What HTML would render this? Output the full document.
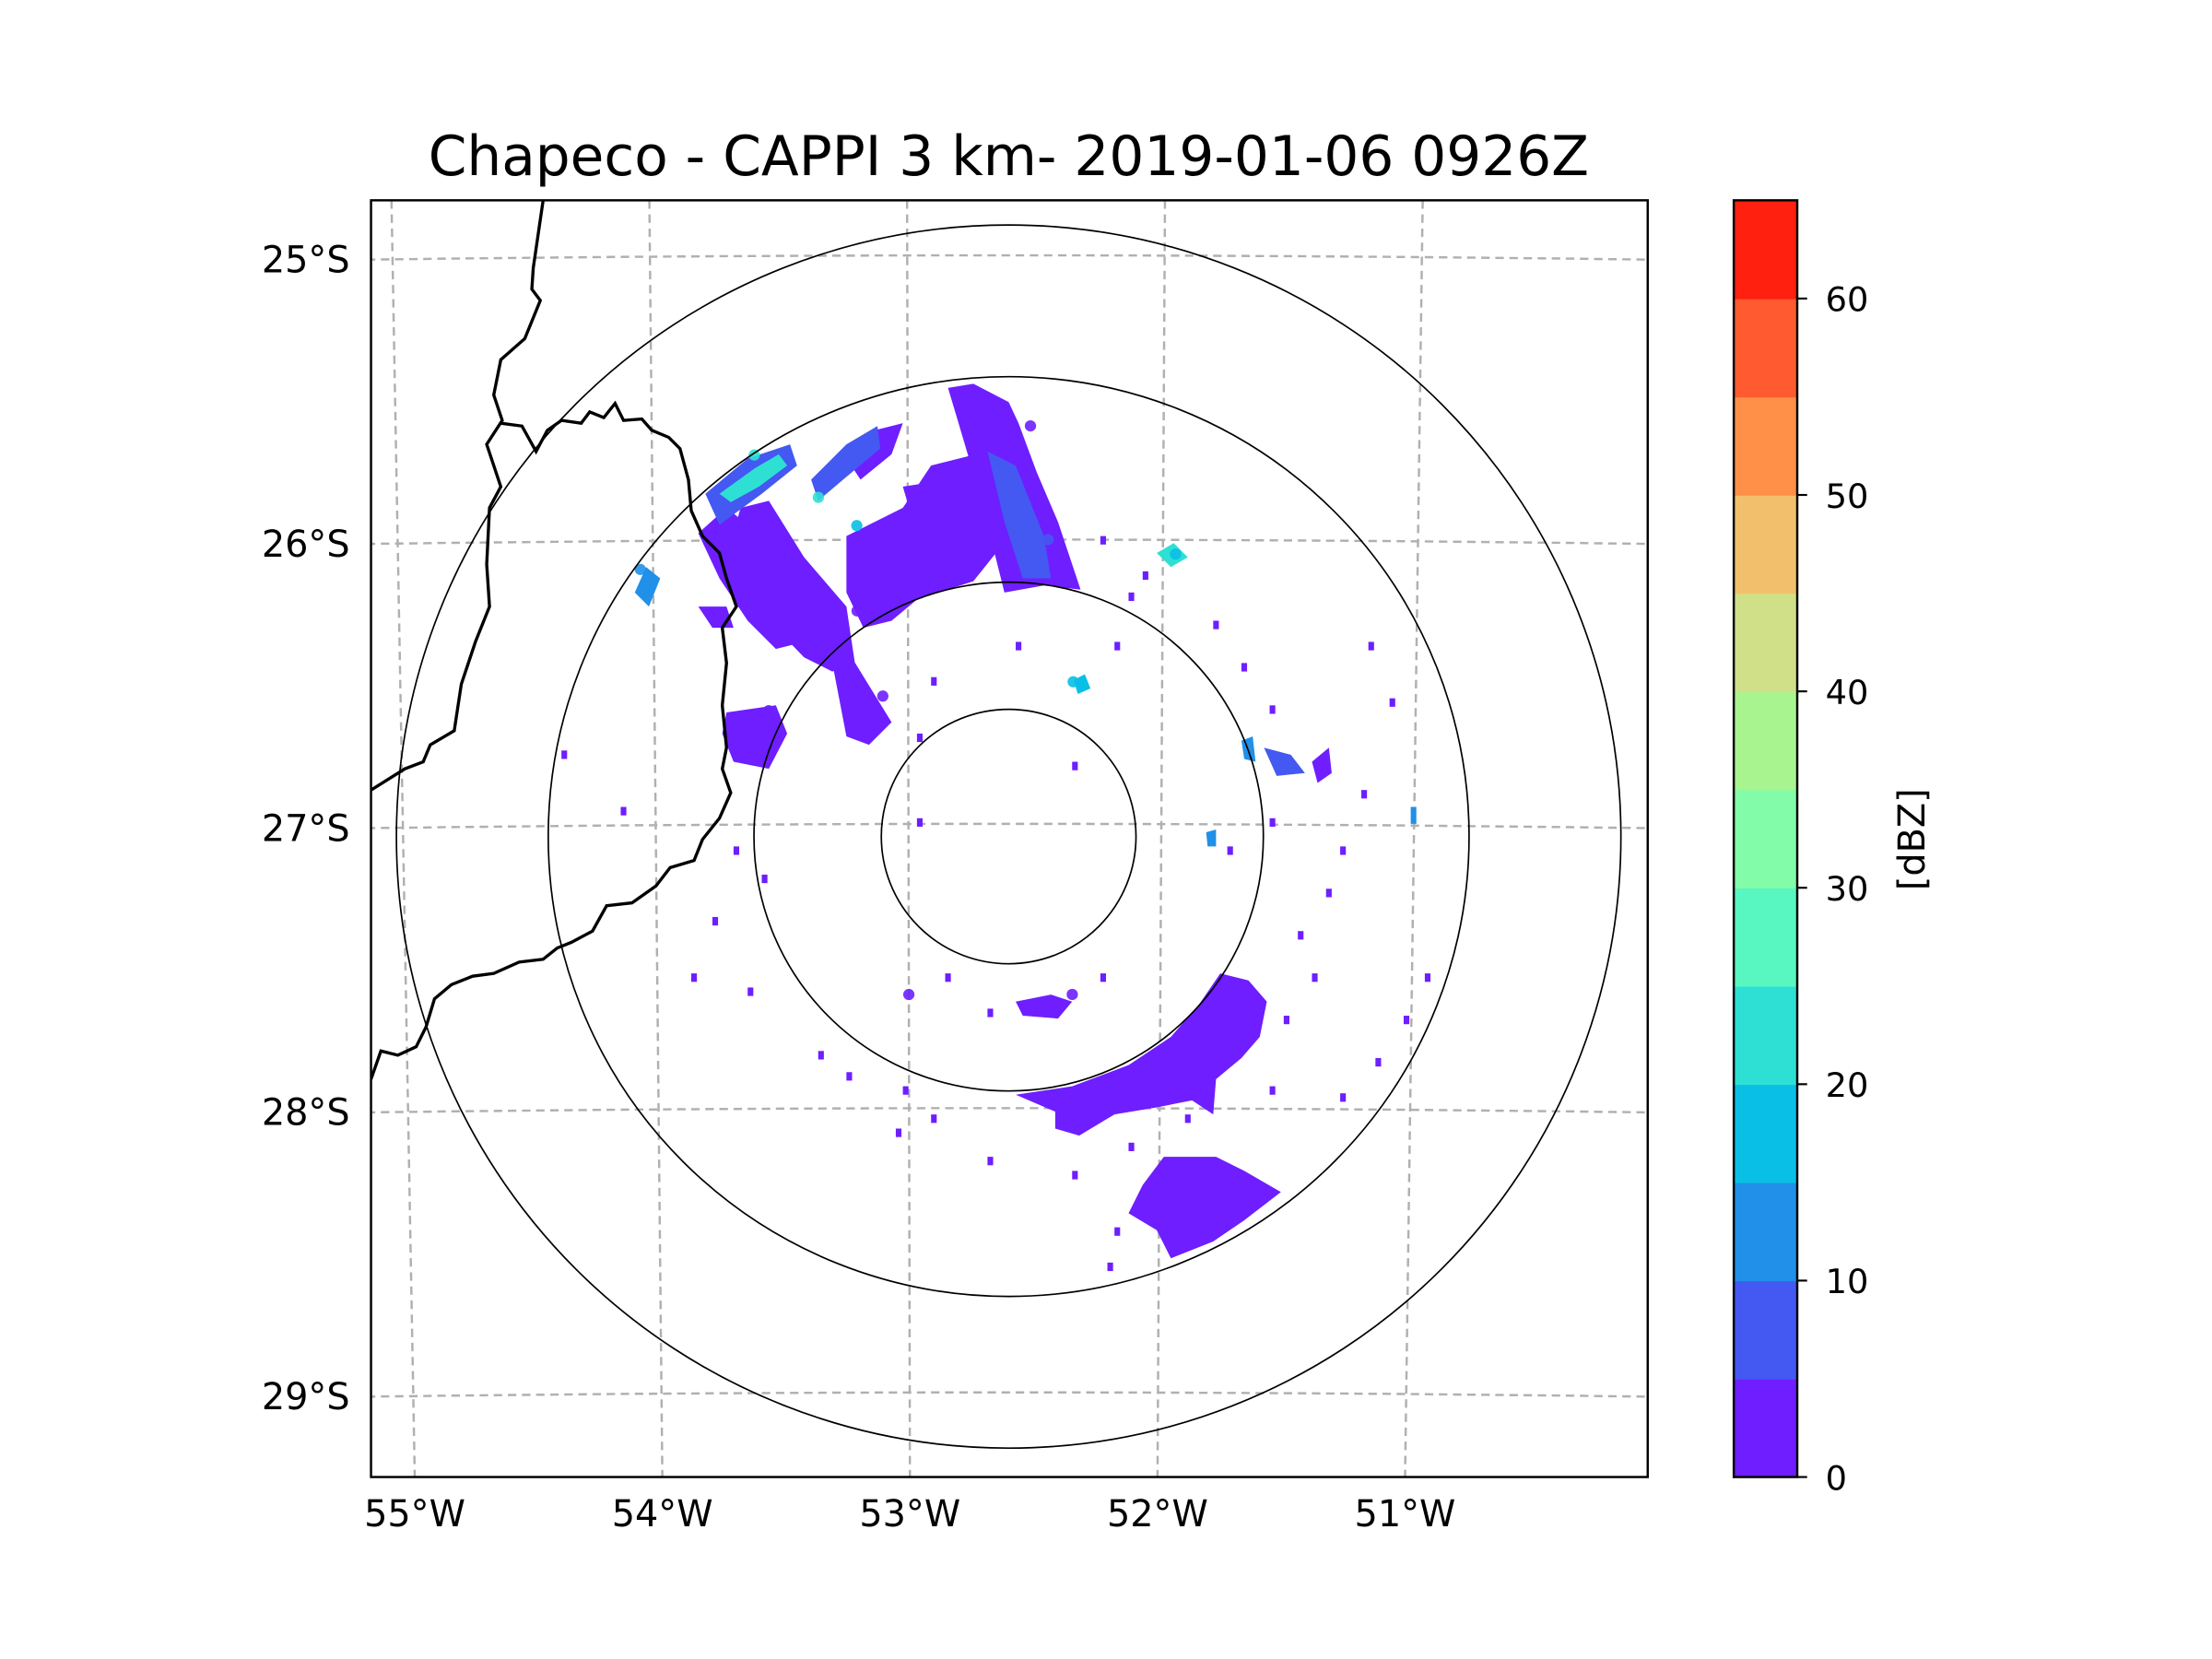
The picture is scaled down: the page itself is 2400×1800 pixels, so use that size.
<!DOCTYPE html>
<html><head><meta charset="utf-8"><style>
html,body{margin:0;padding:0;background:#fff;}
svg{display:block;}
text{font-family:"DejaVu Sans","Liberation Sans",sans-serif;fill:#000;}
</style></head><body>
<svg id="chart" width="2400" height="1800" viewBox="0 0 1568 1176" xmlns="http://www.w3.org/2000/svg">
<rect width="1568" height="1176" fill="#fff"/>
<text x="715" y="124" font-size="39" text-anchor="middle">Chapeco - CAPPI 3 km- 2019-01-06 0926Z</text>
<defs><clipPath id="mapclip"><rect x="263" y="142" width="905" height="905"/></clipPath></defs>
<g id="map" clip-path="url(#mapclip)">
 <g id="grid"></g>
 <g id="echoes"></g>
 <g id="rings"></g>
 <path fill="none" stroke="#000" stroke-width="2.2" d="M385,142 L378,190 L377,205 L383,213 L372,240 L355,255 L350,280 L356,298 L345,315 L355,345 L347,360 L345,400 L347,430 L337,455 L327,485 L322,518 L305,528 L300,540 L287,545 L263,560"/>
 <path fill="none" stroke="#000" stroke-width="2.2" d="M355,300 L370,302 L380,320 L388,305 L398,298 L412,300 L418,292 L428,296 L436,286 L442,298 L455,297 L462,305 L474,310 L482,318 L488,340 L490,362 L498,380 L510,392 L515,410 L522,430 L512,445 L515,470 L512,500 L515,530 L512,545 L518,562 L510,580 L498,595 L492,610 L475,615 L465,628 L448,640 L430,642 L420,660 L405,668 L395,672 L385,680 L368,682 L350,690 L335,692 L320,698 L308,708 L302,728 L295,742 L282,748 L270,745 L263,765"/>
</g>
<rect x="263" y="142" width="905" height="905" fill="none" stroke="#000" stroke-width="1.6"/>
<g id="yticks"></g>
<g id="xticks"></g>
<g id="cbar"></g>
<text x="0" y="0" font-size="26" text-anchor="middle" transform="translate(1364,595) rotate(-90)">[dBZ]</text>
</svg>
<script>
const NS="http://www.w3.org/2000/svg";
// ---- data ----
const latTicks=[25,26,27,28,29];
const lonTicks=[55,54,53,52,51];
const latLabels=["25°S","26°S","27°S","28°S","29°S"];
const lonLabels=["55°W","54°W","53°W","52°W","51°W"];
const ringKm=[52,104,188,250];
const cbarLevels=[0,5,10,15,20,25,30,35,40,45,50,55,60,65];
const cbarColors=["#6e1eff","#4458f2","#2090e8","#0abfe6","#2ee0d4","#58f6c0","#82fca8","#a8f48e","#d0e088","#f2c06c","#ff9048","#ff5a30","#ff2010"];
const cbarTickValues=[0,10,20,30,40,50,60];
// echo cells: lon, lat, dBZ
const echoLon=[-52.52,-52.45,-53.35,-53.2,-53.55,-53.1,-52.85,-53.6,-53.2,-52.0,-52.2,-51.85,-52.35,-54.05,-51.95,-52.35,-53.0];
const echoLat=[-25.6,-26.0,-25.85,-26.25,-26.6,-26.55,-26.1,-25.7,-25.95,-27.85,-27.95,-28.3,-26.5,-26.1,-26.05,-27.6,-27.6];
const echoVal=[2,6,22,4,3,3,3,24,17,2,2,2,16,13,17,3,2];
// ---- axes functions ----
function yOf(lat,x){const b=(x-715)/450;return 587+(-lat-27)*201.5-3*(1-b*b);}
function xOf(lon,y){const xb=645+(lon+53)*175.5, xt=643+(lon+53)*182.75;const t=(1047-y)/905;return xb+(xt-xb)*t;}
function px(lon,lat){let y=587+(-lat-27)*201.5;const x=xOf(lon,y);y=yOf(lat,x);return [x,y];}
function colorOf(v){for(let i=0;i<cbarColors.length;i++){if(v<cbarLevels[i+1])return cbarColors[i];}return cbarColors[cbarColors.length-1];}
const grid=document.getElementById('grid');
latTicks.forEach((la,i)=>{
  let d="";for(let x=250;x<=1180;x+=10){d+=(d?"L":"M")+x+","+yOf(-la,x).toFixed(1);}
  const pa=document.createElementNS(NS,'path');pa.setAttribute('d',d);pa.setAttribute('fill','none');pa.setAttribute('stroke','#b0b0b0');pa.setAttribute('stroke-width','1.6');pa.setAttribute('stroke-dasharray','6,4');
  
  
  grid.appendChild(pa);
  const t=document.createElementNS(NS,'text');t.setAttribute('x',248);t.setAttribute('y',yOf(-la,263)+9);t.setAttribute('font-size','26');t.setAttribute('text-anchor','end');t.textContent=latLabels[i];
  
  
  document.getElementById('yticks').appendChild(t);
});
lonTicks.forEach((lo,i)=>{
  const d="M"+xOf(-lo,142).toFixed(1)+",142L"+xOf(-lo,1047).toFixed(1)+",1047";
  const pa=document.createElementNS(NS,'path');pa.setAttribute('d',d);pa.setAttribute('fill','none');pa.setAttribute('stroke','#b0b0b0');pa.setAttribute('stroke-width','1.6');pa.setAttribute('stroke-dasharray','6,4');
  
  
  grid.appendChild(pa);
  const t=document.createElementNS(NS,'text');t.setAttribute('x',xOf(-lo,1047));t.setAttribute('y',1082);t.setAttribute('font-size','26');t.setAttribute('text-anchor','middle');t.textContent=lonLabels[i];
  
  
  document.getElementById('xticks').appendChild(t);
});
// rings
const cx=715,cy=593,kmx=1.736,kmy=1.734;
ringKm.forEach(r=>{
  const e=document.createElementNS(NS,'ellipse');e.setAttribute('cx',cx);e.setAttribute('cy',cy);e.setAttribute('rx',r*kmx);e.setAttribute('ry',r*kmy);e.setAttribute('fill','none');e.setAttribute('stroke','#000');e.setAttribute('stroke-width','1.1');
  
  
  document.getElementById('rings').appendChild(e);
});
const ech=document.getElementById('echoes');
const shapes=[
 ["#6e1eff","M672,275 L690,272 L715,285 L722,300 L735,335 L750,370 L760,400 L766,418 L740,415 L712,420 L705,392 L698,360 L686,322 L678,295Z"],
 ["#6e1eff","M600,380 L640,360 L660,330 L700,320 L706,392 L690,412 L650,425 L632,440 L612,445 L600,420Z"],
 ["#6e1eff","M525,360 L545,355 L570,395 L600,430 L606,470 L590,476 L570,466 L545,440 L530,420 L515,395Z"],
 ["#6e1eff","M495,378 L515,360 L540,380 L560,420 L570,455 L550,460 L530,440 L510,410Z"],
 ["#6e1eff","M590,470 L605,468 L632,512 L616,528 L600,522Z"],
 ["#6e1eff","M515,505 L550,500 L558,520 L545,545 L520,540 L512,520Z"],
 ["#6e1eff","M865,690 L885,695 L898,710 L893,735 L880,750 L862,765 L860,790 L845,780 L820,785 L790,790 L765,805 L748,800 L748,788 L720,776 L760,770 L800,755 L830,735 L850,712Z"],
 ["#6e1eff","M825,820 L862,820 L882,830 L908,845 L882,865 L860,880 L830,892 L820,872 L800,860 L810,840Z"],
 ["#6e1eff","M720,710 L745,705 L760,710 L750,722 L725,720Z"],
 ["#6e1eff","M640,345 L672,340 L690,348 L675,360 L645,362Z"],
 ["#6e1eff","M600,325 L620,305 L640,300 L632,322 L610,340Z"],
 ["#6e1eff","M495,430 L515,430 L520,445 L505,445Z"],
 ["#4458f2","M700,320 L720,330 L740,380 L745,410 L725,410 L712,370Z"],
 ["#4458f2","M500,350 L530,325 L560,315 L565,330 L540,350 L510,372Z"],
 ["#4458f2","M575,340 L600,315 L622,302 L624,318 L600,338 L580,355Z"],
 ["#2ee0d4","M510,350 L535,332 L552,322 L558,330 L538,345 L518,356Z"],
 ["#2090e8","M450,420 L458,402 L468,410 L460,430Z"],
 ["#2ee0d4","M820,392 L832,385 L842,395 L830,402Z"],
 ["#0abfe6","M761,482 L769,478 L773,488 L764,492Z"],
 ["#2090e8","M880,525 L888,522 L890,540 L882,538Z"],
 ["#4458f2","M896,530 L915,535 L925,548 L905,550Z"],
 ["#6e1eff","M930,540 L942,530 L944,548 L934,555Z"],
 ["#2090e8","M855,590 L862,588 L862,600 L856,600Z"],
 ["#2090e8","M1000,572 L1004,572 L1004,584 L1000,584Z"]
];
shapes.forEach(s=>{
  const p=document.createElementNS(NS,'path');p.setAttribute('d',s[1]);p.setAttribute('fill',s[0]);
  
  
  ech.appendChild(p);
});
echoLon.forEach((lo,i)=>{
  const p=px(lo,echoLat[i]);
  const c=document.createElementNS(NS,'circle');c.setAttribute('cx',p[0]);c.setAttribute('cy',p[1]);c.setAttribute('r',4);c.setAttribute('fill',colorOf(echoVal[i]));c.setAttribute('opacity','0.9');
  
  
  ech.appendChild(c);
});
const speck=[[540,620],[530,700],[520,600],[505,650],[490,690],[580,745],[600,760],[640,770],[635,800],[660,790],[700,820],[760,830],[800,810],[790,870],[785,895],[840,790],[910,720],[930,690],[950,600],[965,560],[940,630],[920,660],[1010,690],[995,720],[975,750],[950,775],[900,770],[870,600],[900,580],[860,440],[880,470],[900,500],[985,495],[970,455],[660,480],[650,520],[720,455],[790,455],[800,420],[780,380],[810,405],[398,532],[440,572],[670,690],[700,715],[780,690],[650,580],[760,540]];
speck.forEach(s=>{
  const r=document.createElementNS(NS,'rect');r.setAttribute('x',s[0]);r.setAttribute('y',s[1]);r.setAttribute('width',4);r.setAttribute('height',6);r.setAttribute('fill','#6e1eff');
  
  
  ech.appendChild(r);
});
// colorbar
const cb=document.getElementById('cbar');
const cbx=1229,cbw=45,cbTop=142,cbBot=1047;
const vy=v=>cbBot-(v-cbarLevels[0])/(cbarLevels[cbarLevels.length-1]-cbarLevels[0])*(cbBot-cbTop);
cbarColors.forEach((col,i)=>{
  const y1=vy(cbarLevels[i+1]),y0=vy(cbarLevels[i]);
  const r=document.createElementNS(NS,'rect');r.setAttribute('x',cbx);r.setAttribute('y',y1);r.setAttribute('width',cbw);r.setAttribute('height',y0-y1+0.5);r.setAttribute('fill',col);
  
  
  cb.appendChild(r);
});
const fr=document.createElementNS(NS,'rect');fr.setAttribute('x',cbx);fr.setAttribute('y',cbTop);fr.setAttribute('width',cbw);fr.setAttribute('height',cbBot-cbTop);fr.setAttribute('fill','none');fr.setAttribute('stroke','#000');fr.setAttribute('stroke-width','1.6');


cb.appendChild(fr);
cbarTickValues.forEach(v=>{
  const y=vy(v);
  const l=document.createElementNS(NS,'line');l.setAttribute('x1',cbx+cbw);l.setAttribute('x2',cbx+cbw+7);l.setAttribute('y1',y);l.setAttribute('y2',y);l.setAttribute('stroke','#000');l.setAttribute('stroke-width','1.4');
  
  
  cb.appendChild(l);
  const t=document.createElementNS(NS,'text');t.setAttribute('x',cbx+cbw+20);t.setAttribute('y',y+9);t.setAttribute('font-size','24');t.textContent=String(v);
  
  
  cb.appendChild(t);
});
</script>
</body></html>
